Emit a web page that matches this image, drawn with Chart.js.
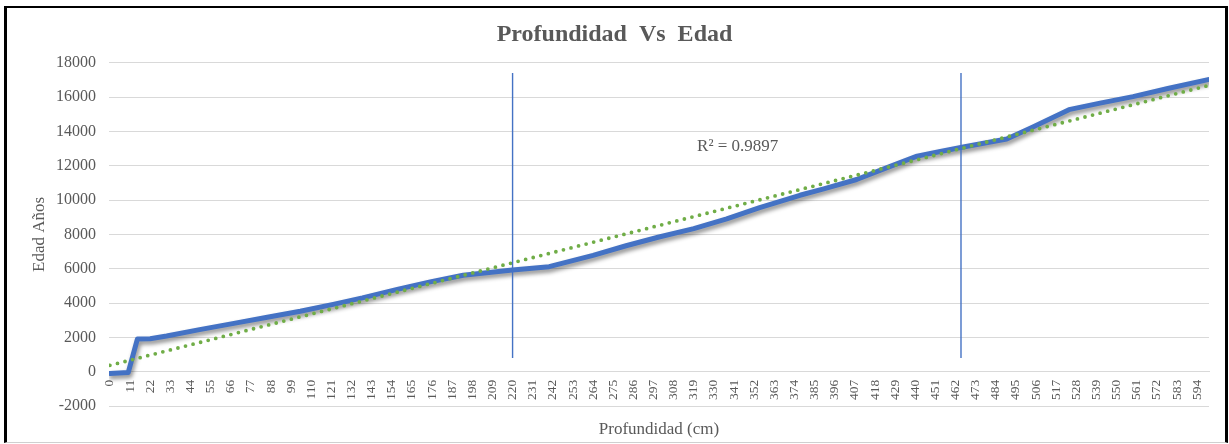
<!DOCTYPE html>
<html lang="es">
<head>
<meta charset="utf-8">
<title>Profundidad Vs Edad</title>
<script src="https://cdn.jsdelivr.net/npm/chart.js@4.4.1/dist/chart.umd.min.js"></script>
<style>
  html, body { margin: 0; padding: 0; background: #fff; }
  .frame {
    position: absolute; left: 4px; top: 6px; width: 1224px; height: 437px;
    box-sizing: border-box;
    border: 2px solid #000; border-left-width: 3px; border-right-width: 3px;
    border-bottom: 1px solid #d0d0d0;
  }
  .wrap { position: absolute; left: 0; top: 0; width: 1229px; height: 444px; }
</style>
</head>
<body>
<div class="frame"></div>
<div class="wrap"><canvas id="edadChart"></canvas></div>
<script>
// depth (cm) vs age (years)
const depthCm = [0, 10, 15, 22, 31, 49, 67, 86, 104, 122, 138, 157, 175, 193, 220, 240,
  264, 282, 300, 319, 337, 355, 377, 390, 408, 426, 441, 453, 467, 490, 504, 524, 541,
  559, 578, 600];
const ageYears = [-100, -50, 1900, 1920, 2080, 2450, 2800, 3170, 3520, 3920, 4300, 4800,
  5230, 5620, 5920, 6120, 6780, 7340, 7850, 8340, 8900, 9560, 10280, 10650, 11200, 11950,
  12560, 12820, 13110, 13560, 14250, 15270, 15650, 16030, 16500, 17020];

// linear trend line end points
const trendDepth = [0, 600];
const trendAge = [370, 16670];
const r2Text = 'R² = 0.9897';
const r2At = { x: 343, y: 13100 };

// vertical marker lines
const markerDepths = [220, 465];
const markerAge = [800, 17400];

const xTickValues = [0, 11, 22, 33, 44, 55, 66, 77, 88, 99, 110, 121, 132, 143, 154, 165,
  176, 187, 198, 209, 220, 231, 242, 253, 264, 275, 286, 297, 308, 319, 330, 341, 352, 363,
  374, 385, 396, 407, 418, 429, 440, 451, 462, 473, 484, 495, 506, 517, 528, 539, 550, 561,
  572, 583, 594];
const yMin = -2000, yMax = 18000, yStep = 2000;

const SERIF = "'Liberation Serif', 'Times New Roman', serif";
const TEXT = '#595959';
const GRID = '#d9d9d9';
const BLUE = '#4472C4';
const GREEN = '#70AD47';

const mainPoints = depthCm.map((d, i) => ({ x: d, y: ageYears[i] }));
const trendPoints = trendDepth.map((d, i) => ({ x: d, y: trendAge[i] }));

const markerSets = markerDepths.map(d => ({
  data: markerAge.map(a => ({ x: d, y: a })),
  borderColor: BLUE,
  borderWidth: 1.4,
  pointRadius: 0,
  order: 0
}));

// soft drop shadow under the main series
const lineShadow = {
  id: 'lineShadow',
  beforeDatasetDraw(chart, args) {
    if (args.index !== 0) return;
    const ctx = chart.ctx;
    ctx.save();
    ctx.shadowColor = 'rgba(0,0,0,0.45)';
    ctx.shadowBlur = 4;
    ctx.shadowOffsetX = 1.5;
    ctx.shadowOffsetY = 3;
  },
  afterDatasetDraw(chart, args) {
    if (args.index !== 0) return;
    chart.ctx.restore();
  }
};

const r2Label = {
  id: 'r2Label',
  afterDatasetsDraw(chart) {
    const { ctx, scales } = chart;
    ctx.save();
    ctx.font = `17px ${SERIF}`;
    ctx.fillStyle = TEXT;
    ctx.textAlign = 'center';
    ctx.textBaseline = 'middle';
    ctx.fillText(r2Text, scales.x.getPixelForValue(r2At.x), scales.y.getPixelForValue(r2At.y));
    ctx.restore();
  }
};

new Chart(document.getElementById('edadChart'), {
  type: 'line',
  data: {
    datasets: [
      {
        label: 'Edad',
        data: mainPoints,
        borderColor: BLUE,
        borderWidth: 5,
        borderJoinStyle: 'round',
        borderCapStyle: 'round',
        pointRadius: 0,
        order: 2
      },
      {
        label: 'Lineal (Edad)',
        data: trendPoints,
        borderColor: GREEN,
        borderWidth: 3.8,
        borderDash: [0, 7.8],
        borderCapStyle: 'round',
        pointRadius: 0,
        order: 1
      },
      ...markerSets
    ]
  },
  options: {
    responsive: true,
    maintainAspectRatio: false,
    animation: false,
    events: [],
    layout: { padding: { top: 8, right: 20, bottom: 38, left: 20 } },
    plugins: {
      legend: { display: false },
      tooltip: { enabled: false },
      title: {
        display: true,
        text: 'Profundidad  Vs  Edad',
        color: TEXT,
        font: { family: SERIF, size: 24, weight: 'bold' },
        padding: { top: 12, bottom: 14 }
      }
    },
    scales: {
      x: {
        type: 'linear',
        position: { y: 0 },
        min: -0.5,
        max: 600.5,
        afterBuildTicks: (scale) => {
          scale.ticks = xTickValues.map(v => ({ value: v }));
        },
        ticks: {
          autoSkip: false,
          minRotation: 90,
          maxRotation: 90,
          padding: 8,
          color: TEXT,
          font: { family: SERIF, size: 13.5 },
          callback: (v) => String(v)
        },
        grid: { display: false, drawTicks: false },
        border: { display: true, color: GRID },
        title: {
          display: true,
          text: 'Profundidad (cm)',
          color: TEXT,
          font: { family: SERIF, size: 17 },
          padding: { top: 11, bottom: 0 }
        }
      },
      y: {
        min: yMin,
        max: yMax,
        afterFit: (scale) => { scale.width = 89; },
        ticks: {
          stepSize: yStep,
          padding: 13,
          color: TEXT,
          font: { family: SERIF, size: 16 },
          callback: (v) => String(v)
        },
        grid: { color: GRID, lineWidth: 1, drawTicks: false },
        border: { display: false },
        title: {
          display: true,
          text: 'Edad Años',
          color: TEXT,
          font: { family: SERIF, size: 17 },
          padding: { top: 9, bottom: 0 }
        }
      }
    }
  },
  plugins: [lineShadow, r2Label]
});
</script>
</body>
</html>
